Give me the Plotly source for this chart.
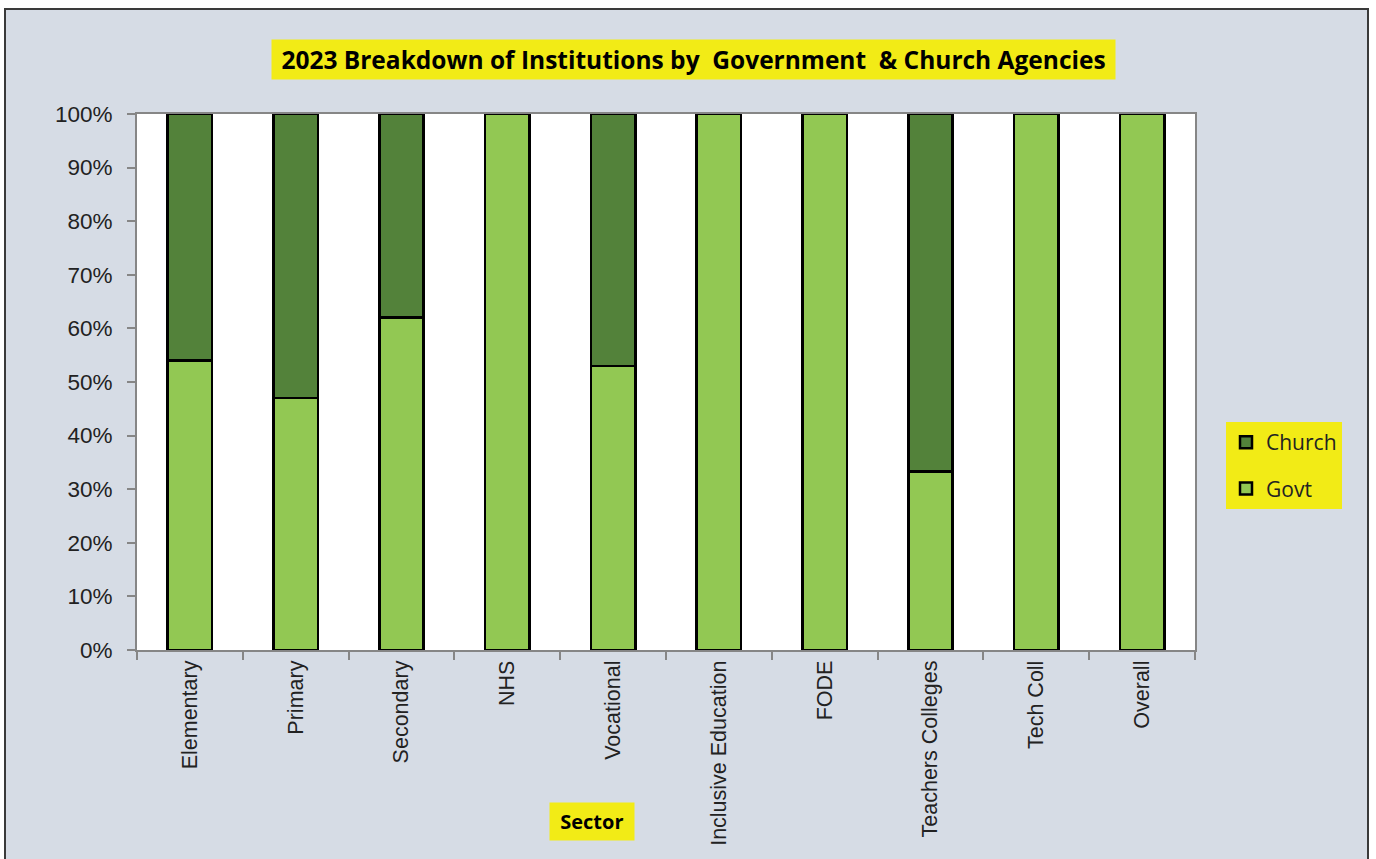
import plotly.graph_objects as go

# Sector categories and share of institutions by agency (percent)
sectors = ["Elementary", "Primary", "Secondary", "NHS", "Vocational",
           "Inclusive Education", "FODE", "Teachers Colleges", "Tech Coll", "Overall"]
govt_pct = [54, 47, 62, 100, 53, 100, 100, 33.3, 100, 100]
church_pct = [46, 53, 38, 0, 47, 0, 0, 66.7, 0, 0]

y_ticks = [0, 10, 20, 30, 40, 50, 60, 70, 80, 90, 100]
y_tick_labels = [f"{v}%" for v in y_ticks]

GOVT = "#92C853"
CHURCH = "#53823A"
YELLOW = "#F2EB16"
PANEL = "#D6DCE5"
FRAME = "#868686"

W, H = 1376, 859
ML, MR, MT, MB = 137, 181, 114, 209
PW, PH = W - ML - MR, H - MT - MB


def px_x(x):
    return (x - ML) / PW


def px_y(y):
    return (H - MB - y) / PH


fig = go.Figure()
fig.add_trace(go.Bar(
    x=sectors, y=govt_pct, name="Govt", legendgroup="g", legendrank=2,
    marker=dict(color=GOVT, line=dict(color="#000000", width=2.5)),
    width=0.42,
))
fig.add_trace(go.Bar(
    x=sectors, y=church_pct, name="Church", legendgroup="c", legendrank=1,
    marker=dict(color=CHURCH, line=dict(color="#000000", width=2.5)),
    width=0.42,
))

# grey chart panel, with the white plotting area on top of it
fig.add_shape(
    type="rect", xref="paper", yref="paper",
    x0=px_x(5), x1=px_x(1368), y0=px_y(880), y1=px_y(9),
    fillcolor=PANEL, line=dict(color="#3A3A3A", width=2), layer="below",
)
fig.add_shape(
    type="rect", xref="paper", yref="paper",
    x0=0, x1=1, y0=0, y1=1,
    fillcolor="#FFFFFF", line=dict(width=0), layer="below",
)

fig.add_annotation(
    text="&nbsp;<b>2023 Breakdown of Institutions by  Government  & Church Agencies</b>&nbsp;",
    xref="paper", yref="paper", x=px_x(693), y=px_y(60),
    xanchor="center", yanchor="middle", showarrow=False,
    font=dict(family="Open Sans", size=24.5, color="#000000"),
    bgcolor=YELLOW, borderpad=3,
)
fig.add_annotation(
    text="&nbsp;<b>Sector</b>&nbsp;",
    xref="paper", yref="paper", x=px_x(592), y=px_y(821),
    xanchor="center", yanchor="middle", showarrow=False,
    font=dict(family="Open Sans", size=20, color="#000000"),
    bgcolor=YELLOW, borderpad=5,
)

fig.update_layout(
    width=W, height=H,
    margin=dict(l=ML, r=MR, t=MT, b=MB),
    paper_bgcolor="#FFFFFF", plot_bgcolor="#FFFFFF",
    barmode="stack",
    showlegend=True,
    legend=dict(
        x=px_x(1226), y=px_y(422), xanchor="left", yanchor="top",
        bgcolor=YELLOW, traceorder="grouped", tracegroupgap=16,
        font=dict(family="Open Sans", size=21, color="#222222"),
        itemwidth=30,
    ),
    xaxis=dict(
        tickangle=-90, tickson="boundaries", ticks="outside", ticklen=8,
        tickcolor=FRAME, tickwidth=1.5,
        showline=True, linecolor=FRAME, linewidth=2, mirror=True,
        showgrid=False,
        tickfont=dict(family="Liberation Sans", size=21.5, color="#222222"),
        range=[-0.5, len(sectors) - 0.5],
    ),
    yaxis=dict(
        range=[0, 100], tickvals=y_ticks, ticktext=y_tick_labels,
        ticks="outside", ticklen=8, tickcolor=FRAME, tickwidth=1.5,
        showline=True, linecolor=FRAME, linewidth=2, mirror=True,
        showgrid=False, zeroline=False,
        tickfont=dict(family="Liberation Sans", size=22.5, color="#222222"),
        ticklabelstandoff=10,
    ),
)

fig.write_html("out.html")
